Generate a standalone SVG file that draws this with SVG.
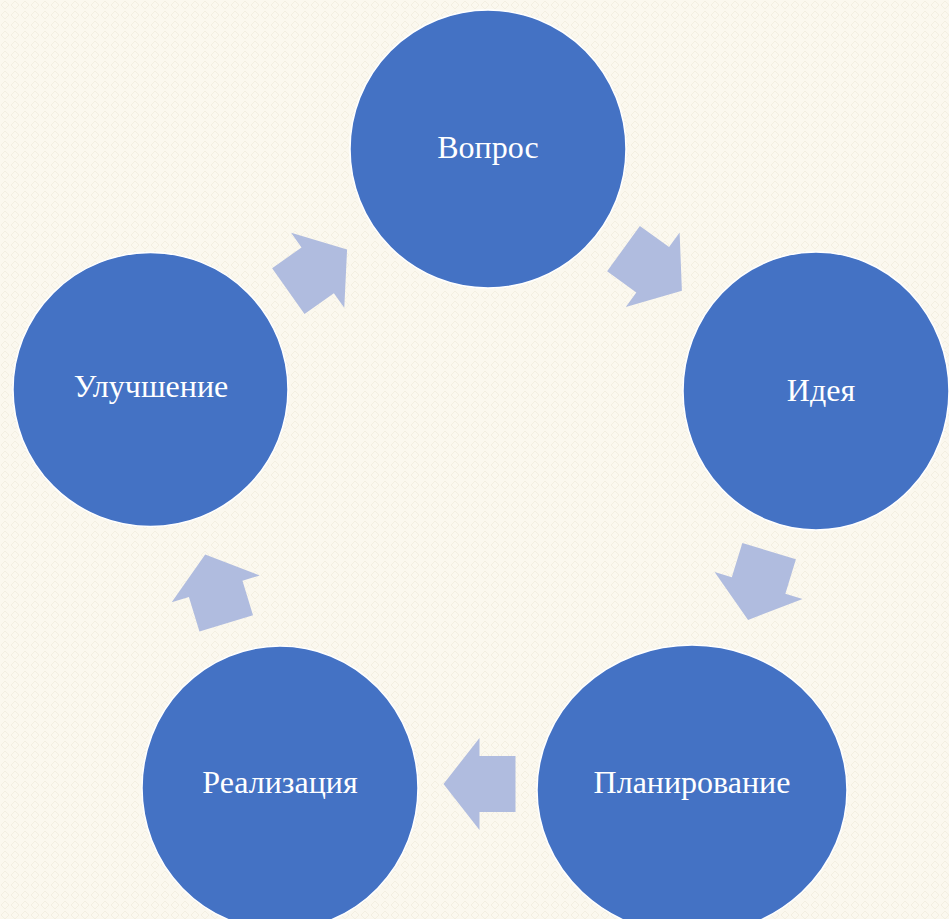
<svg xmlns="http://www.w3.org/2000/svg" width="949" height="919" viewBox="0 0 949 919">
  <defs>
    <pattern id="bgpat" width="10" height="10" patternUnits="userSpaceOnUse">
      <rect width="10" height="10" fill="#FBF8EF"/>
      <path d="M5 1 L9 5 L5 9 L1 5 Z" fill="none" stroke="#F1ECDD" stroke-width="0.8"/>
    </pattern>
    <path id="arrowShape" d="M-36 -28 L0 -28 L0 -46 L36 0 L0 46 L0 28 L-36 28 Z"/>
  </defs>
  <style>
    .node { fill: #4472C4; stroke: #FFFFFF; stroke-width: 1.5; }
    .label { font-family: "Liberation Serif", "Times New Roman", serif; font-size: 32px; fill: #FFFFFF; text-anchor: middle; }
    .arrow { fill: #B0BCDF; }
  </style>
  <rect x="0" y="0" width="949" height="919" fill="url(#bgpat)"/>

  <g id="connectors">
    <use href="#arrowShape" class="arrow" transform="translate(317.7 270.3) rotate(-35.3)"/>
    <use href="#arrowShape" class="arrow" transform="translate(652.7 269.7) rotate(35.8)"/>
    <use href="#arrowShape" class="arrow" transform="translate(758.6 585.5) rotate(107)"/>
    <use href="#arrowShape" class="arrow" transform="translate(479.5 784) rotate(180)"/>
    <use href="#arrowShape" class="arrow" transform="translate(215.7 588.9) rotate(-107)"/>
  </g>

  <g id="node-vopros">
    <ellipse class="node" cx="488" cy="149" rx="138" ry="139"/>
    <text class="label" x="488" y="158">Вопрос</text>
  </g>
  <g id="node-ideya">
    <ellipse class="node" cx="816" cy="391" rx="133" ry="139"/>
    <text class="label" x="821" y="401">Идея</text>
  </g>
  <g id="node-planirovanie">
    <ellipse class="node" cx="692" cy="790" rx="155" ry="145"/>
    <text class="label" x="692" y="793">Планирование</text>
  </g>
  <g id="node-realizatsiya">
    <ellipse class="node" cx="280" cy="788" rx="138" ry="142"/>
    <text class="label" x="280" y="793">Реализация</text>
  </g>
  <g id="node-uluchshenie">
    <ellipse class="node" cx="150.5" cy="389.5" rx="137.5" ry="137"/>
    <text class="label" x="151" y="397">Улучшение</text>
  </g>
</svg>
